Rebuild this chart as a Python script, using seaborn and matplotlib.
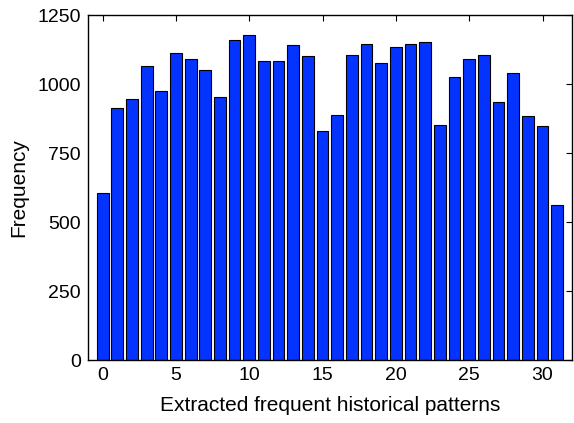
import matplotlib
matplotlib.use("Agg")
import matplotlib.pyplot as plt
import seaborn as sns
import pandas as pd
import numpy as np

patterns = list(range(32))
frequency = [606, 912, 944, 1066, 976, 1111, 1091, 1052, 954, 1161, 1179, 1082,
             1082, 1140, 1103, 829, 887, 1106, 1144, 1077, 1133, 1144, 1153, 853,
             1026, 1092, 1104, 936, 1040, 885, 848, 562]
xticks = [0, 5, 10, 15, 20, 25, 30]
yticks = [0, 250, 500, 750, 1000, 1250]

sns.set_theme(style="white")
plt.rcParams['font.family'] = ['Liberation Sans', 'DejaVu Sans']

df = pd.DataFrame({"pattern": patterns, "frequency": frequency})

fig = plt.figure(figsize=(5.74, 4.23), dpi=100)
ax = fig.add_axes([0.1533, 0.1489, 0.843, 0.8156])
sns.barplot(data=df, x="pattern", y="frequency", native_scale=True, width=0.8,
            color="#0433FF", saturation=1, edgecolor="black", linewidth=0.8, ax=ax)
ax.set_xlim(-1, 32)
ax.set_ylim(0, 1250)
ax.set_xticks(xticks)
ax.set_yticks(yticks)
ax.set_xticklabels([str(t) for t in xticks])
ax.set_yticklabels([str(t) for t in yticks])
ax.tick_params(direction="in", top=True, right=True, length=4, width=0.8,
               labelsize=14, colors="black", pad=5)
for s in ax.spines.values():
    s.set_visible(True)
    s.set_color("black")
    s.set_linewidth(1.0)
ax.set_xlabel("Extracted frequent historical patterns", fontsize=15, color="black", labelpad=9)
ax.set_ylabel("Frequency", fontsize=15, color="black", labelpad=7)
fig.savefig("out.png", dpi=100)
